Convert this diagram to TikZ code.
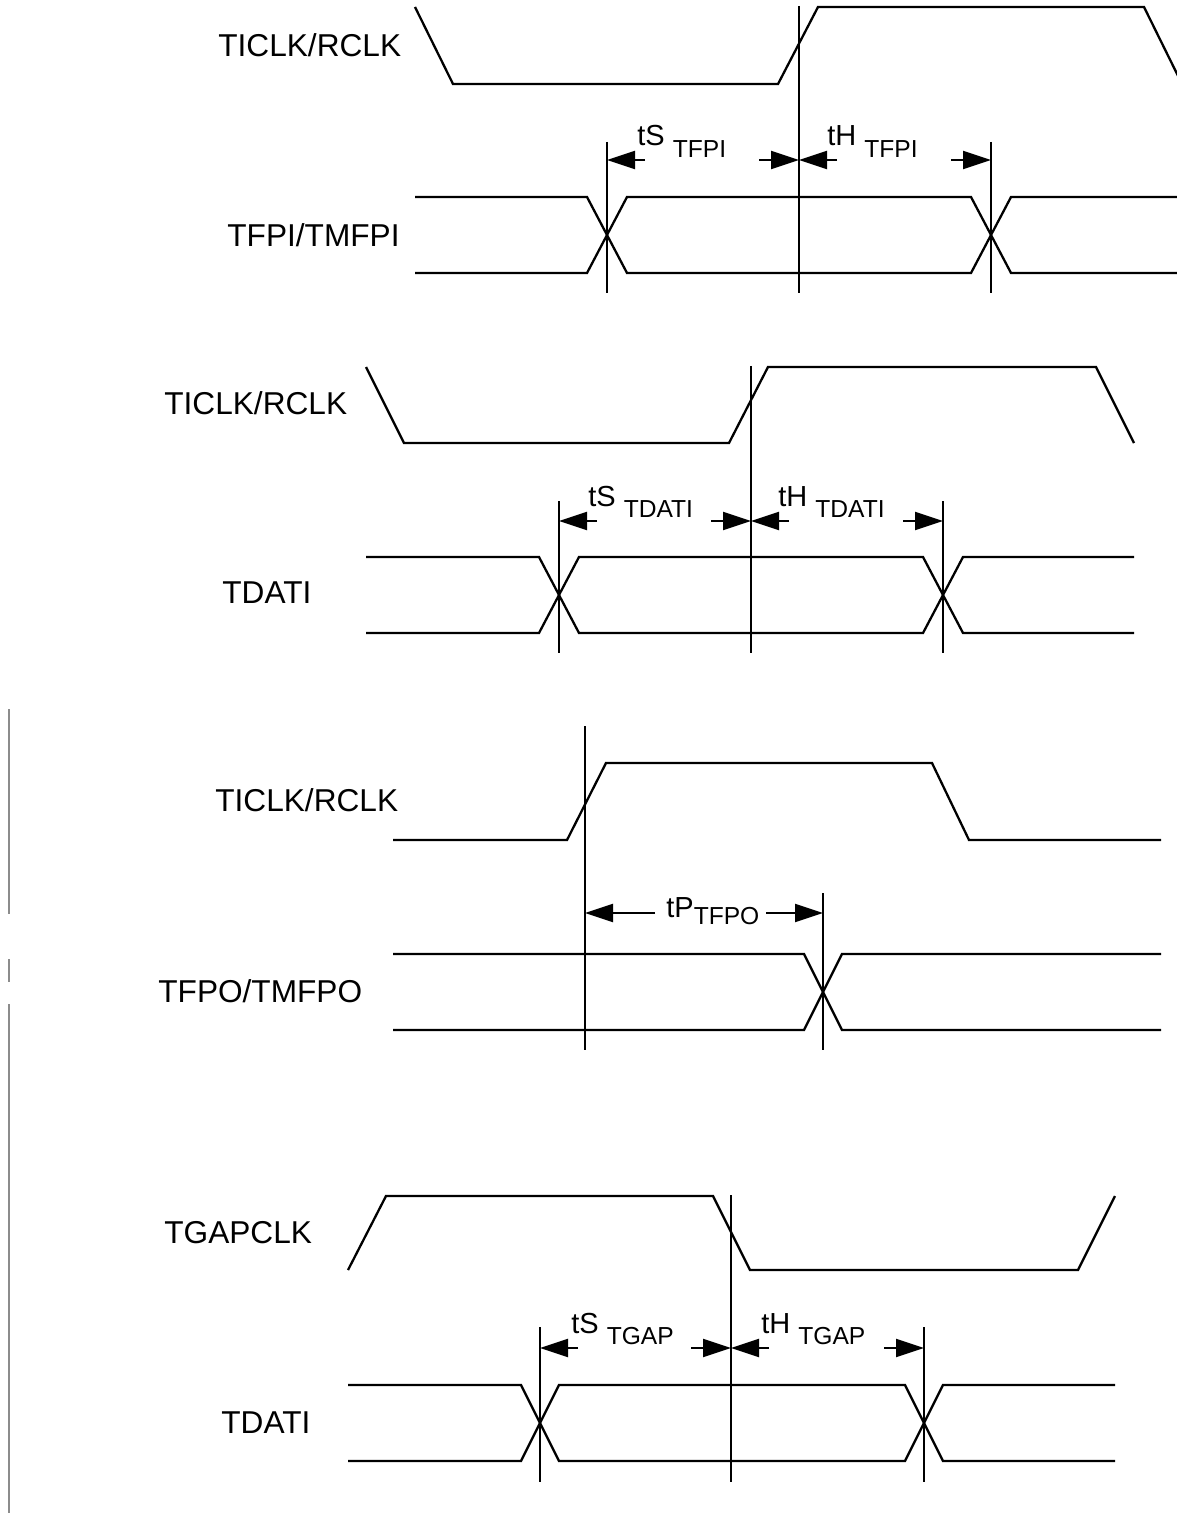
\documentclass[tikz,border=0pt]{standalone}
\usepackage{fontspec}
\setmainfont{Liberation Sans}
\usetikzlibrary{arrows.meta,calc}

\newcommand{\sublab}[2][-6.3pt]{\raisebox{#1}{\fontsize{14}{16}\selectfont #2}}

\begin{document}
\begin{tikzpicture}[x=0.02cm, y=-0.02cm,
  sig/.style={line width=1.3pt, line join=miter},
  vline/.style={line width=1.2pt},
  dim/.style={line width=1.2pt, -{Triangle[length=0.56cm, width=0.36cm]}},
  siglab/.style={font=\fontsize{18}{20}\selectfont, anchor=base west, inner sep=0pt},
  tlab/.style={font=\fontsize{16.5}{18}\selectfont, anchor=base west, inner sep=0pt},
  margin/.style={draw=black!45, line width=0.8pt}]
\useasboundingbox (0,0) rectangle (1176,1513);

% TFPI setup / hold
\node[siglab] (s1clk) at (218,57) {TICLK/RCLK};
\node[siglab] (s1fp)  at (227,247) {TFPI/TMFPI};
\draw[sig] (415,7) -- (453,84) -- (778,84) -- (818,7) -- (1144,7) -- (1182,84);
\draw[sig] (415,197) -- (587,197) -- (627,273) -- (971,273) -- (1011,197) -- (1182,197);
\draw[sig] (415,273) -- (587,273) -- (627,197) -- (971,197) -- (1011,273) -- (1182,273);
\draw[vline] (607,142) -- (607,293);
\draw[vline] (799,6) -- (799,293);
\draw[vline] (991,142) -- (991,293);
\coordinate (s1a) at (607,160);
\coordinate (s1b) at (799,160);
\coordinate (s1c) at (991,160);
\draw[dim] ($(s1a)+(38,0)$) -- (s1a);
\draw[dim] ($(s1b)-(40,0)$) -- (s1b);
\draw[dim] ($(s1b)+(38,0)$) -- (s1b);
\draw[dim] ($(s1c)-(40,0)$) -- (s1c);
\node[tlab] (s1ts) at ($(s1a)+(30,-14)$) {tS \sublab{TFPI}};
\node[tlab] (s1th) at ($(s1b)+(28,-14)$) {tH \sublab{TFPI}};

% TDATI setup / hold
\node[siglab] (s2clk) at (164,415) {TICLK/RCLK};
\node[siglab] (s2dat) at (222,603) {TDATI};
\draw[sig] (366,367) -- (404,443) -- (729,443) -- (768,367) -- (1096,367) -- (1134,443);
\draw[sig] (366,557) -- (539,557) -- (579,633) -- (923,633) -- (963,557) -- (1134,557);
\draw[sig] (366,633) -- (539,633) -- (579,557) -- (923,557) -- (963,633) -- (1134,633);
\draw[vline] (559,501) -- (559,653);
\draw[vline] (751,366) -- (751,653);
\draw[vline] (943,501) -- (943,653);
\coordinate (s2a) at (559,521);
\coordinate (s2b) at (751,521);
\coordinate (s2c) at (943,521);
\draw[dim] ($(s2a)+(38,0)$) -- (s2a);
\draw[dim] ($(s2b)-(40,0)$) -- (s2b);
\draw[dim] ($(s2b)+(38,0)$) -- (s2b);
\draw[dim] ($(s2c)-(40,0)$) -- (s2c);
\node[tlab] (s2ts) at ($(s2a)+(29,-15)$) {tS \sublab{TDATI}};
\node[tlab] (s2th) at ($(s2b)+(27,-15)$) {tH \sublab{TDATI}};

% TFPO delay
\node[siglab] (s3clk) at (215,811) {TICLK/RCLK};
\node[siglab] (s3fp)  at (158,1002) {TFPO/TMFPO};
\draw[sig] (393,840) -- (567,840) -- (606,763) -- (932,763) -- (969,840) -- (1161,840);
\draw[sig] (393,954) -- (804,954) -- (842,1030) -- (1161,1030);
\draw[sig] (393,1030) -- (804,1030) -- (842,954) -- (1161,954);
\draw[vline] (585,726) -- (585,1050);
\draw[vline] (823,893) -- (823,1050);
\coordinate (s3a) at (585,913);
\coordinate (s3b) at (823,913);
\draw[dim] ($(s3a)+(70,0)$) -- (s3a);
\draw[dim] ($(s3b)-(57,0)$) -- (s3b);
\node[tlab] (s3tp) at ($(s3a)+(81,4)$) {tP\sublab[-4.5pt]{TFPO}};

% TGAP setup / hold
\node[siglab] (s4clk) at (164,1243) {TGAPCLK};
\node[siglab] (s4dat) at (221,1433) {TDATI};
\draw[sig] (348,1270) -- (386,1196) -- (713,1196) -- (750,1270) -- (1078,1270) -- (1115,1196);
\draw[sig] (348,1385) -- (521,1385) -- (559,1461) -- (905,1461) -- (943,1385) -- (1115,1385);
\draw[sig] (348,1461) -- (521,1461) -- (559,1385) -- (905,1385) -- (943,1461) -- (1115,1461);
\draw[vline] (540,1327) -- (540,1482);
\draw[vline] (731,1195) -- (731,1482);
\draw[vline] (924,1327) -- (924,1482);
\coordinate (s4a) at (540,1348);
\coordinate (s4b) at (731,1348);
\coordinate (s4c) at (924,1348);
\draw[dim] ($(s4a)+(38,0)$) -- (s4a);
\draw[dim] ($(s4b)-(40,0)$) -- (s4b);
\draw[dim] ($(s4b)+(38,0)$) -- (s4b);
\draw[dim] ($(s4c)-(40,0)$) -- (s4c);
\node[tlab] (s4ts) at ($(s4a)+(31,-15)$) {tS \sublab{TGAP}};
\node[tlab] (s4th) at ($(s4b)+(30,-15)$) {tH \sublab{TGAP}};

\draw[margin] (9,709) -- (9,914);
\draw[margin] (9,959) -- (9,982);
\draw[margin] (9,1004) -- (9,1513);
\end{tikzpicture}
\end{document}
